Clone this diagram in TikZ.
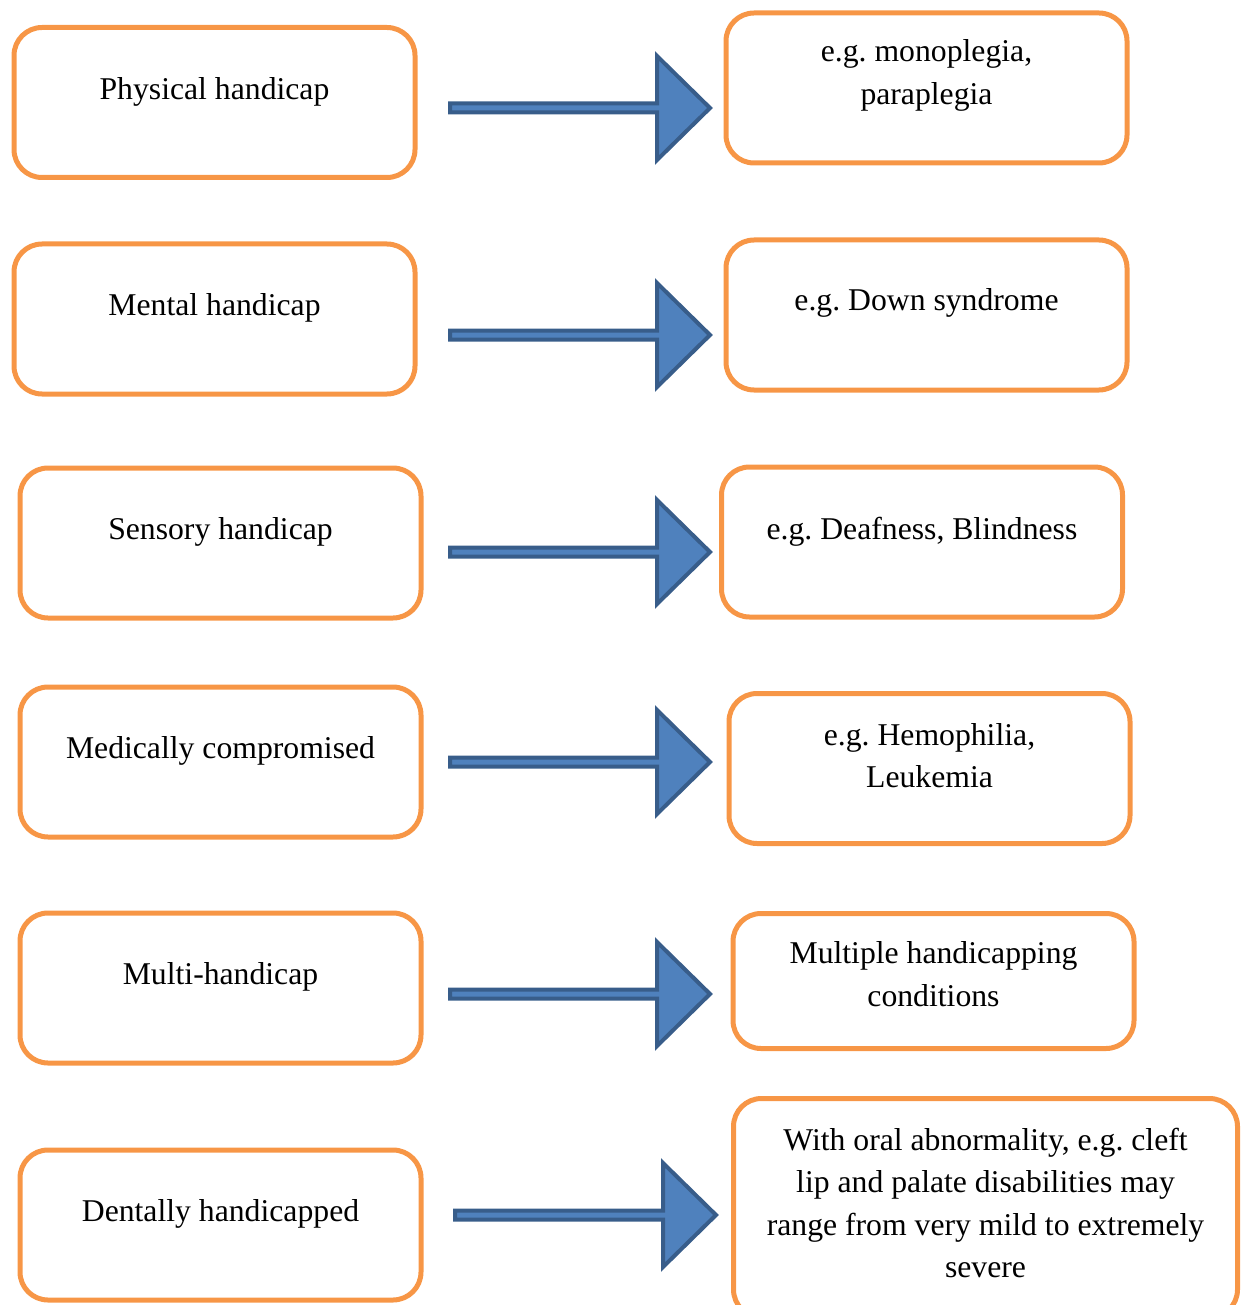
\documentclass[tikz,border=0pt]{standalone}
\usepackage{fontspec}
\setmainfont{Liberation Serif}
\usetikzlibrary{calc}
\frenchspacing
\definecolor{boxline}{HTML}{F79646}
\definecolor{arrowfill}{HTML}{4F81BD}
\definecolor{arrowline}{HTML}{385D8A}
\tikzset{
  box/.style={draw=boxline, line width=5pt, rounded corners=28pt, inner sep=0pt,
    minimum width=401pt, minimum height=150pt},
  captxt/.style={align=center, inner sep=0pt,
    font=\fontsize{31.7}{42.5}\selectfont},
  fatarrow/.style={draw=arrowline, fill=arrowfill, line width=4pt, line join=miter}
}
% block arrow from a start coordinate to a tip coordinate (same height)
\newcommand\hcarrow[2]{%
  \draw[fatarrow] let \p1=(#1), \p2=(#2) in
    (\x1,\y1+4.5pt) -- (\x2-53pt,\y1+4.5pt) -- (\x2-53pt,\y1+52pt) --
    (\x2,\y1) -- (\x2-53pt,\y1-52pt) -- (\x2-53pt,\y1-4.5pt) --
    (\x1,\y1-4.5pt) -- cycle;}
\begin{document}
\begin{tikzpicture}[x=1pt,y=-1pt]
\useasboundingbox (0,0) rectangle (1242,1305);

% categories
\node[box] (L1) at (214.5,102.5) {};
\node[box] (L2) at (214.5,319) {};
\node[box] (L3) at (220.5,543) {};
\node[box] (L4) at (220.5,762) {};
\node[box] (L5) at (220.5,988) {};
\node[box] (L6) at (220.5,1225) {};

\node[captxt] (L1t) at (214.5,91.5) {Physical handicap};
\node[captxt] (L2t) at (214.5,307.5) {Mental handicap};
\node[captxt] (L3t) at (220.5,531.5) {Sensory handicap};
\node[captxt] (L4t) at (220.5,750.5) {Medically compromised};
\node[captxt] (L5t) at (220.5,976.5) {Multi-handicap};
\node[captxt] (L6t) at (220.5,1213.5) {Dentally handicapped};

% examples
\node[box] (R1) at (926.5,88) {};
\node[box] (R2) at (926.5,315) {};
\node[box] (R3) at (922,542) {};
\node[box] (R4) at (929.5,768.5) {};
\node[box, minimum height=135pt] (R5) at (933.5,981) {};
\node[box, minimum width=504pt, minimum height=219pt] (R6) at (985.5,1208) {};

\node[captxt] (R1t) at (926.5,75.5) {e.g. monoplegia,\\paraplegia};
\node[captxt] (R2t) at (926.5,302.5) {e.g. Down syndrome};
\node[captxt] (R3t) at (922,531.5) {e.g. Deafness, Blindness};
\node[captxt] (R4t) at (929.5,755.5) {e.g. Hemophilia,\\Leukemia};
\node[captxt] (R5t) at (933.5,974) {Multiple handicapping\\conditions};
\node[captxt] (R6t) at (985.5,1203) {With oral abnormality, e.g. cleft\\lip and palate disabilities may\\range from very mild to extremely\\severe};

% arrow ends
\coordinate (a1s) at (450,108);  \coordinate (a1e) at (710,108);
\coordinate (a2s) at (450,335);  \coordinate (a2e) at (710,335);
\coordinate (a3s) at (450,552);  \coordinate (a3e) at (710,552);
\coordinate (a4s) at (450,762);  \coordinate (a4e) at (710,762);
\coordinate (a5s) at (450,994);  \coordinate (a5e) at (710,994);
\coordinate (a6s) at (455,1215); \coordinate (a6e) at (716,1215);

\hcarrow{a1s}{a1e}
\hcarrow{a2s}{a2e}
\hcarrow{a3s}{a3e}
\hcarrow{a4s}{a4e}
\hcarrow{a5s}{a5e}
\hcarrow{a6s}{a6e}
\end{tikzpicture}
\end{document}
